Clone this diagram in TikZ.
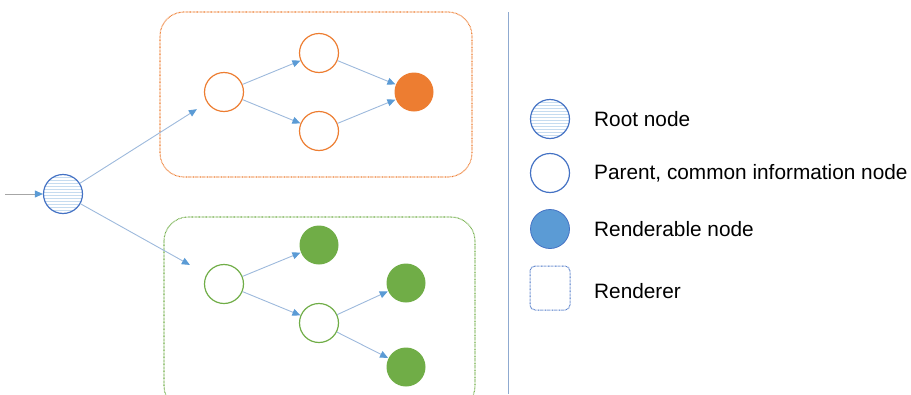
\documentclass[tikz,border=0pt]{standalone}
\usepackage{fontspec}
\setmainfont{Liberation Sans}
\usetikzlibrary{arrows.meta,patterns}
\definecolor{cOrange}{HTML}{ED7D31}
\definecolor{cGreen}{HTML}{70AD47}
\definecolor{cBlue}{HTML}{5B9BD5}
\definecolor{cDark}{HTML}{4472C4}
\definecolor{cLink}{HTML}{9DB9DC}
\definecolor{cRule}{HTML}{8FAAD0}
\tikzset{
  treenode/.style={circle,minimum size=39pt,inner sep=0pt,line width=1.2pt},
  hollow/.style={treenode,draw=#1,fill=white},
  solid/.style={treenode,fill=#1,draw=none},
  rootnode/.style={treenode,draw=cDark,pattern=horizontal lines,pattern color=cBlue!35},
  link/.style={draw=cLink,line width=0.9pt,-{Triangle[length=8pt,width=7pt,fill=cBlue,color=cBlue]}},
  renderer/.style={draw=#1,line width=1.1pt,dash pattern=on 0.7pt off 0.7pt,rounded corners=24pt},
  legtext/.style={anchor=west,inner sep=0pt,font=\fontsize{20.8}{24}\selectfont}
}
\begin{document}
\begin{tikzpicture}[x=1pt,y=-1pt]
\useasboundingbox (0,0) rectangle (911,394);

% renderer frames
\draw[renderer=cOrange] (160,12) rectangle (472,177);
\draw[renderer=cGreen] (164,217) rectangle (475,410);

% separator
\draw[cRule,line width=0.9pt] (508,12) -- (508,394);

% root
\node[rootnode] (root) at (63,194) {};
\coordinate (in) at (5,194);

% orange renderer tree
\node[hollow=cOrange] (o1) at (224,92) {};
\node[hollow=cOrange] (o2) at (319,53) {};
\node[hollow=cOrange] (o3) at (319,131) {};
\node[solid=cOrange] (o4) at (414,92) {};

% green renderer tree
\node[hollow=cGreen] (g1) at (224,284) {};
\node[solid=cGreen] (g2) at (319,245) {};
\node[hollow=cGreen] (g3) at (319,323) {};
\node[solid=cGreen] (g4) at (406,283) {};
\node[solid=cGreen] (g5) at (406,367) {};

% connectors
\draw[link,draw=gray!70] (in) -- (root);
\draw[link,shorten >=12pt] (root) -- (o1);
\draw[link,shorten >=19pt] (root) -- (g1);
\draw[link] (o1) -- (o2);
\draw[link] (o1) -- (o3);
\draw[link] (o2) -- (o4);
\draw[link] (o3) -- (o4);
\draw[link] (g1) -- (g2);
\draw[link] (g1) -- (g3);
\draw[link] (g3) -- (g4);
\draw[link] (g3) -- (g5);

% legend
\node[rootnode] (lroot) at (550,119) {};
\node[hollow=cDark] (lparent) at (550,173) {};
\node[solid=cBlue,draw=cDark,line width=0.8pt] (lrend) at (550,229) {};
\draw[draw=cDark,line width=1pt,dash pattern=on 0.7pt off 0.7pt,rounded corners=5pt] (530,266) rectangle (570,310);
\node[legtext] (t1) at (594,119) {Root node};
\node[legtext] (t2) at (594,173) {Parent, common information node};
\node[legtext] (t3) at (594,229) {Renderable node};
\node[legtext] (t4) at (594,291) {Renderer};
\end{tikzpicture}
\end{document}
